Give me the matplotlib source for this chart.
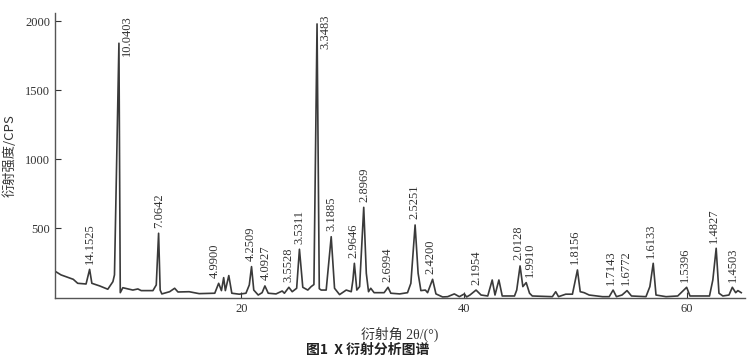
import numpy as np
import matplotlib
matplotlib.use('Agg')
import matplotlib.pyplot as plt

plt.rcParams['font.family'] = ['Liberation Serif', 'Noto Sans CJK SC']

# diffraction curve: 2theta (deg) / intensity (CPS)
two_theta = [3.3, 3.8, 4.9, 5.3, 6.05, 6.37, 6.57, 7.27, 8.0, 8.46, 8.6, 9.0, 9.12,
             9.35, 10.25, 10.7, 11.0, 12.05, 12.35, 12.56, 12.7, 12.85, 13.55, 14.0,
             14.3, 15.3, 16.2, 17.6, 17.95, 18.2, 18.4, 18.55, 18.86, 19.13, 19.8,
             20.4, 20.7, 20.9, 21.1, 21.5, 21.85, 22.1, 22.4, 23.1, 23.65, 23.85,
             24.25, 24.55, 24.95, 25.2, 25.5, 25.95, 26.25, 26.5, 26.78, 26.98,
             27.15, 27.6, 28.05, 28.35, 28.8, 29.4, 29.85, 30.0, 30.13, 30.35, 30.6,
             30.97, 31.2, 31.4, 31.6, 31.9, 32.8, 33.15, 33.4, 34.2, 34.9, 35.2,
             35.58, 35.85, 36.1, 36.5, 36.7, 37.15, 37.45, 38.05, 38.5, 39.1, 39.55,
             40.0, 40.2, 40.5, 41.05, 41.5, 42.1, 42.5, 42.75, 43.1, 43.4, 44.5,
             44.7, 45.0, 45.25, 45.55, 45.85, 46.1, 47.9, 48.2, 48.45, 49.1, 49.7,
             49.9, 50.15, 50.4, 50.75, 51.2, 52.4, 53.0, 53.35, 53.65, 54.15, 54.6,
             55.0, 56.3, 56.65, 56.95, 57.2, 58.1, 59.15, 59.95, 60.25, 62.0, 62.3,
             62.6, 62.85, 63.2, 63.75, 64.05, 64.35, 64.55, 64.85]
intensity = [185, 160, 128, 99, 94, 200, 99, 80, 56, 111, 160, 1840, 31,
             67, 50, 58, 46, 46, 87, 462, 50, 22, 38, 63,
             36, 38, 24, 27, 99, 46, 140, 46, 155, 27, 20,
             27, 87, 220, 50, 14, 31, 80, 27, 22, 43, 27,
             70, 38, 63, 346, 70, 50, 75, 90, 1980, 60,
             50, 50, 437, 63, 17, 50, 38, 123, 244, 50, 75,
             650, 172, 38, 63, 31, 31, 70, 27, 22, 31, 99,
             522, 172, 46, 50, 31, 128, 22, 0, 2, 22, 2,
             22, 0, 14, 50, 14, 7, 123, 14, 123, 7, 7,
             50, 225, 75, 104, 27, 7, 2, 38, 2, 20, 20,
             99, 196, 38, 31, 14, 2, 2, 50, 2, 14, 46,
             7, 2, 75, 244, 14, 2, 7, 70, 7, 7, 123,
             353, 27, 7, 14, 70, 31, 46, 31]

# d-spacing labels and where they sit along 2theta
d_labels = ['14.1525', '10.0403', '7.0642', '4.9900', '4.2509', '4.0927', '3.5528',
            '3.5311', '3.3483', '3.1885', '2.9646', '2.8969', '2.6994', '2.5251',
            '2.4200', '2.1954', '2.0128', '1.9910', '1.8156', '1.7143', '1.6772',
            '1.6133', '1.5396', '1.4827', '1.4503']
label_x = [6.37, 9.0, 12.65, 17.6, 20.87, 22.2, 24.25, 25.2, 26.78, 28.05, 30.07,
           31.03, 33.1, 35.5, 37.0, 41.05, 44.87, 45.85, 49.96, 53.16, 54.5,
           56.74, 59.82, 62.42, 64.06]

x_ticks = [20, 40, 60]
y_ticks = [500, 1000, 1500, 2000]

tt = np.array(two_theta)
ii = np.array(intensity)

fig = plt.figure(figsize=(7.51, 3.59), dpi=100)
ax = fig.add_axes([0.0732, 0.169, 0.919, 0.795])
ax.plot(tt, ii, color='#3a3a3a', lw=1.2)

ax.set_xlim(3.26, 65.2)
ax.set_ylim(-10, 2060)
ax.set_xticks(x_ticks)
ax.set_yticks(y_ticks)
ax.tick_params(direction='in', length=4, width=0.8, labelsize=9, colors='#333333')
for s in ['top', 'right']:
    ax.spines[s].set_visible(False)
for s in ['left', 'bottom']:
    ax.spines[s].set_color('#555555')
    ax.spines[s].set_linewidth(1.0)

for lx, lab in zip(label_x, d_labels):
    win = (tt > lx - 0.4) & (tt < lx + 0.4)
    h = ii[win].max() if win.any() else np.interp(lx, tt, ii)
    if h > 1500:
        ax.annotate(lab, (lx, 2045), xytext=(6, 0), textcoords='offset points',
                    rotation=90, ha='center', va='top', fontsize=9, color='#333333')
    else:
        ax.annotate(lab, (lx, h), xytext=(0, 4), textcoords='offset points',
                    rotation=90, ha='center', va='bottom', fontsize=9, color='#333333')

ax.set_ylabel('衍射强度/CPS', fontsize=9.5, color='#333333', labelpad=6,
              family=['Noto Sans CJK SC'])
ax.set_xlabel('衍射角 2θ/(°)', fontsize=10, color='#333333', labelpad=8)
fig.text(0.49, 0.025, '图1  X 衍射分析图谱', ha='center', va='center', fontsize=10,
         fontweight='bold', family=['Noto Sans CJK SC'], color='#222222')

fig.savefig('out.png', dpi=100)
